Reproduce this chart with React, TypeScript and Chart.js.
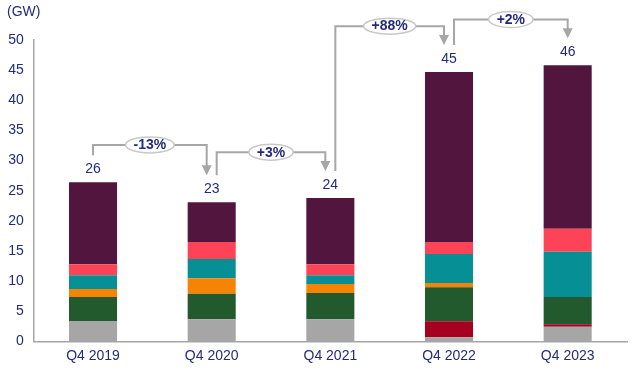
import React, { useEffect, useRef } from 'react';
import { Chart, registerables } from 'chart.js';

Chart.register(...registerables);

const categories = ['Q4 2019', 'Q4 2020', 'Q4 2021', 'Q4 2022', 'Q4 2023'];
const grey = [3.4, 3.7, 3.7, 0.7, 2.45];
const red = [0, 0, 0, 2.65, 0.4];
const green = [4.0, 4.2, 4.35, 5.65, 4.55];
const orange = [1.3, 2.6, 1.5, 0.7, 0];
const teal = [2.3, 3.2, 1.45, 4.8, 7.5];
const pink = [1.8, 2.8, 1.8, 2.0, 3.8];
const purple = [13.6, 6.6, 11.0, 28.2, 27.1];
const changeLabels = ['-13%', '+3%', '+88%', '+2%'];
const bracketLevels = [32.6, 31.4, 52.3, 53.4];
const yMin = 0;
const yMax = 50;
const yStep = 5;
const unitLabel = '(GW)';

const FONT = "'Liberation Sans', Arial, sans-serif";
const NAVY = '#232a7d';
const LINE = '#a6a6a6';

const seriesList = [
  { name: 'grey', data: grey, color: '#a6a6a6' },
  { name: 'red', data: red, color: '#a5001f' },
  { name: 'green', data: green, color: '#225a2e' },
  { name: 'orange', data: orange, color: '#f58405' },
  { name: 'teal', data: teal, color: '#078f96' },
  { name: 'pink', data: pink, color: '#fd4357' },
  { name: 'purple', data: purple, color: '#52163e' },
];

const annotationPlugin = {
  id: 'annotations',
  afterDatasetsDraw(chart: any) {
    const ctx = chart.ctx;
    const xs = chart.scales.x;
    const ys = chart.scales.y;
    const n = categories.length;
    const totals = categories.map((_, i) => seriesList.reduce((s, d) => s + d.data[i], 0));
    const cx = totals.map((_, i) => xs.getPixelForValue(i));
    const labelY = totals.map((t) => ys.getPixelForValue(t) - 13);

    ctx.save();
    // unit label
    ctx.font = `14px ${FONT}`;
    ctx.fillStyle = NAVY;
    ctx.textAlign = 'left';
    ctx.textBaseline = 'middle';
    ctx.fillText(unitLabel, 7, 12);

    // totals
    ctx.textAlign = 'center';
    totals.forEach((t, i) => {
      ctx.fillText(String(Math.round(t)), cx[i], labelY[i]);
    });

    // brackets
    for (let j = 0; j < n - 1; j++) {
      const a = j;
      const b = j + 1;
      const xOut = cx[a] + (a > 0 ? 5 : 0);
      const xIn = cx[b] - (b < n - 1 ? 5 : 0);
      const yStart = labelY[a] - 14;
      const yEnd = labelY[b] - 14;
      const yLevel = ys.getPixelForValue(bracketLevels[j]);
      ctx.strokeStyle = LINE;
      ctx.lineWidth = 2;
      ctx.beginPath();
      ctx.moveTo(xOut, yStart);
      ctx.lineTo(xOut, yLevel);
      ctx.lineTo(xIn, yLevel);
      ctx.lineTo(xIn, yEnd - 8);
      ctx.stroke();
      ctx.fillStyle = LINE;
      ctx.beginPath();
      ctx.moveTo(xIn - 5, yEnd - 10);
      ctx.lineTo(xIn + 5, yEnd - 10);
      ctx.lineTo(xIn, yEnd);
      ctx.closePath();
      ctx.fill();

      ctx.font = `bold 14px ${FONT}`;
      const w = ctx.measureText(changeLabels[j]).width;
      const mx = (xOut + xIn) / 2;
      ctx.beginPath();
      ctx.ellipse(mx, yLevel, w / 2 + 8, 8, 0, 0, Math.PI * 2);
      ctx.fillStyle = '#ffffff';
      ctx.fill();
      ctx.strokeStyle = '#c8c8c8';
      ctx.lineWidth = 1.5;
      ctx.stroke();
      ctx.fillStyle = NAVY;
      ctx.textAlign = 'center';
      ctx.textBaseline = 'middle';
      ctx.fillText(changeLabels[j], mx, yLevel + 0.5);
    }
    ctx.restore();
  },
};

export default function App() {
  const ref = useRef<HTMLCanvasElement>(null);

  useEffect(() => {
    if (!ref.current) return;
    const chart = new Chart(ref.current, {
      type: 'bar',
      data: {
        labels: categories,
        datasets: seriesList.map((s) => ({
          label: s.name,
          data: s.data,
          backgroundColor: s.color,
          borderWidth: 0,
          categoryPercentage: 1,
          barPercentage: 0.405,
        })),
      },
      options: {
        animation: false,
        responsive: true,
        maintainAspectRatio: false,
        layout: { padding: { top: 40, right: 13, bottom: 0, left: 0 } },
        plugins: {
          legend: { display: false },
          tooltip: { enabled: false },
          title: { display: false },
        },
        scales: {
          x: {
            stacked: true,
            grid: { display: false, drawTicks: false },
            border: { display: true, color: LINE, width: 1.5 },
            ticks: { color: NAVY, font: { family: FONT, size: 14 }, padding: 6 },
            afterFit: (scale: any) => {
              scale.height = 30.5;
            },
          },
          y: {
            stacked: true,
            min: yMin,
            max: yMax,
            grid: { display: false, drawTicks: false },
            border: { display: true, color: LINE, width: 1.5 },
            ticks: { stepSize: yStep, color: NAVY, font: { family: FONT, size: 14 }, padding: 10 },
            afterFit: (scale: any) => {
              scale.width = 33.7;
            },
          },
        },
      },
      plugins: [annotationPlugin],
    });
    return () => chart.destroy();
  }, []);

  return (
    <div style={{ position: 'absolute', left: 0, top: 0, width: 640, height: 372, background: '#fff' }}>
      <canvas ref={ref} />
    </div>
  );
}
